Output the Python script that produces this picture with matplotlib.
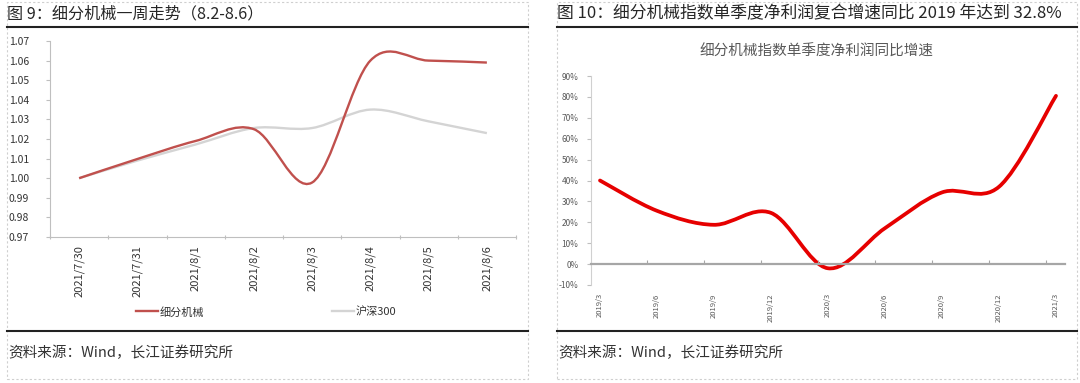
import numpy as np
import matplotlib.pyplot as plt
from matplotlib.path import Path
from matplotlib.patches import PathPatch, Rectangle
from matplotlib.lines import Line2D
from matplotlib.ticker import FixedLocator, FuncFormatter

plt.rcParams['font.family'] = ['Noto Sans CJK SC', 'DejaVu Sans']

# 图9 数据
days = ["2021/7/30", "2021/7/31", "2021/8/1", "2021/8/2",
        "2021/8/3", "2021/8/4", "2021/8/5", "2021/8/6"]
jixie = [1.000, 1.0098, 1.0190, 1.0250, 0.9978, 1.0600, 1.0600, 1.0590]
hs300 = [1.000, 1.0090, 1.0172, 1.0256, 1.0256, 1.0350, 1.0290, 1.0230]

# 图10 数据
quarters = ["2019/3", "2019/6", "2019/9", "2019/12", "2020/3",
            "2020/6", "2020/9", "2020/12", "2021/3"]
growth = [40.0, 25.5, 18.8, 24.5, -2.0, 17.2, 34.3, 37.0, 80.5]


def smooth_path(x, y):
    # excel 风格的平滑线 (catmull-rom -> bezier)
    n = len(x)
    verts = [(x[0], y[0])]
    codes = [Path.MOVETO]
    for i in range(n - 1):
        xa, ya = (x[i - 1], y[i - 1]) if i > 0 else (x[i], y[i])
        xd, yd = (x[i + 2], y[i + 2]) if i + 2 < n else (x[i + 1], y[i + 1])
        c1 = (x[i] + (x[i + 1] - xa) / 6, y[i] + (y[i + 1] - ya) / 6)
        c2 = (x[i + 1] - (xd - x[i]) / 6, y[i + 1] - (yd - y[i]) / 6)
        verts += [c1, c2, (x[i + 1], y[i + 1])]
        codes += [Path.CURVE4] * 3
    return Path(verts, codes)


W, H = 1080, 383
fig = plt.figure(figsize=(W / 100, H / 100), dpi=100)


def fx(px):
    return px / W


def fy(py):
    return 1 - py / H


# 边框和标题线
for x0, x1 in [(7, 528), (557, 1077)]:
    fig.add_artist(Rectangle((fx(x0), fy(379)), fx(x1 - x0), (379 - 2) / H,
                             transform=fig.transFigure, fill=False,
                             ec="#cfcfcf", lw=0.8, ls=(0, (2, 2))))
    fig.add_artist(Line2D([fx(x0), fx(x1)], [fy(27), fy(27)],
                          transform=fig.transFigure, color="#222222", lw=1.5))
    fig.add_artist(Line2D([fx(x0), fx(x1)], [fy(331), fy(331)],
                          transform=fig.transFigure, color="#222222", lw=1.5))
    fig.text(fx(x0 + 1), fy(353), "资料来源：Wind，长江证券研究所",
             fontsize=10.5, color="#333333", va="center", ha="left")

fig.text(fx(7), fy(14), "图 9：细分机械一周走势（8.2-8.6）",
         fontsize=11.6, color="#262626", va="center", ha="left")
fig.text(fx(557), fy(14), "图 10：细分机械指数单季度净利润复合增速同比 2019 年达到 32.8%",
         fontsize=12.1, color="#262626", va="center", ha="left")

# ---- 左图 ----
ax1 = fig.add_axes([fx(50), fy(237), fx(466), 196 / H])
xs = np.arange(len(days))
red1 = "#c0504d"
grey1 = "#d4d4d4"
ax1.add_patch(PathPatch(smooth_path(xs, hs300), fill=False, ec=grey1, lw=1.7))
ax1.add_patch(PathPatch(smooth_path(xs, jixie), fill=False, ec=red1, lw=1.7))
ax1.set_xlim(-0.5, len(days) - 0.5)
ax1.set_ylim(0.97, 1.07)
ax1.set_yticks(np.arange(0.97, 1.0701, 0.01))
ax1.yaxis.set_major_formatter(FuncFormatter(lambda v, p: f"{v:.2f}"))
ax1.xaxis.set_major_locator(FixedLocator(np.arange(-0.5, len(days), 1.0)))
ax1.xaxis.set_minor_locator(FixedLocator(xs))
ax1.set_xticklabels([], minor=False)
ax1.set_xticklabels(days, minor=True, rotation=90, fontsize=8, color="#333333")
ax1.tick_params(axis="x", which="major", length=3, direction="inout", color="#bfbfbf")
ax1.tick_params(axis="x", which="minor", length=0, pad=6)
ax1.tick_params(axis="y", length=3, color="#bfbfbf", labelsize=7.5,
                labelcolor="#333333", pad=12)
for s in ["top", "right"]:
    ax1.spines[s].set_visible(False)
for s in ["left", "bottom"]:
    ax1.spines[s].set_color("#bfbfbf")
    ax1.spines[s].set_linewidth(0.8)

handles = [Line2D([], [], color=red1, lw=1.7), Line2D([], [], color=grey1, lw=1.7)]
ax1.legend(handles, ["细分机械", "沪深300"], loc="center",
           bbox_to_anchor=(fx(266), fy(312)), bbox_transform=fig.transFigure,
           ncol=2, frameon=False, fontsize=8, handlelength=2.0,
           handletextpad=0.1, columnspacing=11.5, labelcolor="#333333")

# ---- 右图 ----
ax2 = fig.add_axes([fx(591), fy(285), fx(474), 209 / H])
xq = np.arange(len(quarters))
ax2.add_patch(PathPatch(smooth_path(xq, growth), fill=False, ec="#e60000",
                        lw=2.7, capstyle="round"))
ax2.set_xlim(-0.158, 8.158)
ax2.set_ylim(-10, 90)
ax2.set_yticks(np.arange(-10, 91, 10))
ax2.yaxis.set_major_formatter(FuncFormatter(lambda v, p: f"{v:.0f}%"))
ax2.tick_params(axis="y", length=3, color="#bfbfbf", labelsize=6,
                labelcolor="#595959", pad=6)
for s in ["top", "right"]:
    ax2.spines[s].set_visible(False)
ax2.spines["left"].set_color("#d0d0d0")
ax2.spines["left"].set_linewidth(0.8)
ax2.spines["bottom"].set_position(("data", 0))
ax2.spines["bottom"].set_color("#a6a6a6")
ax2.spines["bottom"].set_linewidth(1.6)
ax2.set_xticks(xq[1:] - 0.175)
ax2.tick_params(axis="x", length=3, direction="in", color="#a6a6a6",
                labelbottom=False)

sec = ax2.secondary_xaxis(0.0)
sec.set_xticks(xq)
sec.set_xticklabels(quarters, rotation=90, fontsize=5.5, color="#595959")
sec.tick_params(length=0, pad=6)
sec.spines["bottom"].set_visible(False)

fig.text(fx(816), fy(52), "细分机械指数单季度净利润同比增速", fontsize=10.5,
         color="#595959", ha="center", va="center")

fig.savefig("out.png", dpi=100)
